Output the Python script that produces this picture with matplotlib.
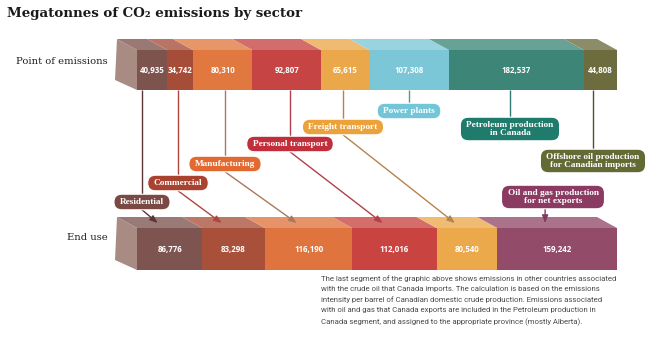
import matplotlib
matplotlib.use("Agg")
import matplotlib.pyplot as plt
from matplotlib.patches import Polygon, FancyBboxPatch
from matplotlib.colors import to_rgb

# Point of emissions (megatonnes CO2)
point_labels = ["Residential", "Commercial", "Manufacturing", "Personal transport",
                "Freight transport", "Power plants", "Petroleum production\nin Canada",
                "Offshore oil production\nfor Canadian imports"]
point_values = [40935, 34742, 80310, 92807, 65615, 107308, 182537, 44808]
point_colors = ["#7d534e", "#a64d3a", "#e07840", "#c64443",
                "#eba84b", "#7cc7d7", "#3d8677", "#6c6c3e"]

# End use (megatonnes CO2)
end_labels = ["Residential", "Commercial", "Manufacturing", "Personal transport",
              "Freight transport", "Oil and gas production\nfor net exports"]
end_values = [86776, 83298, 116190, 112016, 80540, 159242]
end_colors = ["#7e5450", "#a9503b", "#e0743f", "#c94441", "#eca94b", "#934b6a"]

# pill colours, leader colours and pill centres for each callout
pill_style = {
    "Residential": ("#7a4943", "#5a3734", (142, 202)),
    "Commercial": ("#a9432f", "#b0453f", (178, 183)),
    "Manufacturing": ("#e2692f", "#a87a5d", (225, 164)),
    "Personal transport": ("#c22f3c", "#b0404a", (290, 144)),
    "Freight transport": ("#eca23a", "#b5834e", (343, 127)),
    "Power plants": ("#73c6d8", "#4e98a8", (409, 111)),
    "Petroleum production\nin Canada": ("#1f7b6b", "#2f7a72", (510, 129)),
    "Offshore oil production\nfor Canadian imports": ("#636a34", "#4f4f37", (593, 161)),
    "Oil and gas production\nfor net exports": ("#8b3b61", "#7d3b5e", (553, 197)),
}

note = ("The last segment of the graphic above shows emissions in other countries associated\n"
        "with the crude oil that Canada imports. The calculation is based on the emissions\n"
        "intensity per barrel of Canadian domestic crude production. Emissions associated\n"
        "with oil and gas that Canada exports are included in the Petroleum production in\n"
        "Canada segment, and assigned to the appropriate province (mostly Alberta).")

W, H = 650, 339
BAR_X0, BAR_W = 137, 480
DX, DY = -20, -10
SIDE = "#a88c84"


def lighten(c, f):
    r, g, b = to_rgb(c)
    return (r + (1 - r) * f, g + (1 - g) * f, b + (1 - b) * f)


def draw_bar(ax, values, colors, y_top, y_bot):
    total = sum(values)
    edges = [BAR_X0]
    for v in values:
        edges.append(edges[-1] + v / total * BAR_W)
    # left side face
    ax.add_patch(Polygon([(BAR_X0, y_top), (BAR_X0 + DX, y_top + DY - 1),
                          (BAR_X0 + DX - 2, y_bot + DY), (BAR_X0, y_bot)],
                         closed=True, fc=SIDE, ec="none", zorder=2))
    centers = []
    for i, v in enumerate(values):
        x0, x1 = edges[i], edges[i + 1]
        ax.add_patch(Polygon([(x0, y_top), (x1, y_top), (x1 + DX, y_top + DY - 1),
                              (x0 + DX, y_top + DY - 1)],
                             closed=True, fc=lighten(colors[i], 0.22), ec="none", zorder=2))
        ax.add_patch(Polygon([(x0, y_top), (x1, y_top), (x1, y_bot), (x0, y_bot)],
                             closed=True, fc=colors[i], ec="none", zorder=3))
        cx = (x0 + x1) / 2
        centers.append(cx)
        ax.text(cx, (y_top + y_bot) / 2 + 0.5, f"{v:,}", ha="center", va="center",
                color="white", fontsize=5.7, fontweight="bold", family="Open Sans", zorder=4)
    return centers


def pill(ax, fig, label, fc):
    cx, cy = pill_style[label][2]
    t = ax.text(cx, cy, label, ha="center", va="center", color="white",
                fontsize=6.7, family="Liberation Serif", fontweight="bold",
                linespacing=1.0, zorder=6)
    fig.canvas.draw()
    bb = t.get_window_extent().transformed(ax.transData.inverted())
    x0, x1 = sorted([bb.x0, bb.x1])
    y0, y1 = sorted([bb.y0, bb.y1])
    hp, vp = 6, 3.8
    w, h = x1 - x0 + 2 * hp, y1 - y0 + 2 * vp
    r = min(h / 2, 8)
    ax.add_patch(FancyBboxPatch((x0 - hp, y0 - vp), w, h,
                                boxstyle=f"round,pad=0,rounding_size={r}",
                                fc=fc, ec="white", lw=0.8, zorder=5))
    return y0 - vp, y0 - vp + h


fig = plt.figure(figsize=(W / 100, H / 100), dpi=100)
ax = fig.add_axes([0, 0, 1, 1])
ax.set_xlim(0, W)
ax.set_ylim(H, 0)
ax.axis("off")

fig.text(7 / W, 1 - 14 / H, "Megatonnes of CO₂ emissions by sector", ha="left", va="center",
         fontsize=9.6, fontweight="heavy", family="DejaVu Serif", color="#1a1a1a")

ax.text(108, 62, "Point of emissions", ha="right", va="center", fontsize=7.2,
        family="DejaVu Serif", color="#1e1e1e")
ax.text(108, 238, "End use", ha="right", va="center", fontsize=7.2,
        family="DejaVu Serif", color="#1e1e1e")

TOP_Y0, TOP_Y1 = 50, 90
BOT_Y0, BOT_Y1 = 228, 270
top_centers = draw_bar(ax, point_values, point_colors, TOP_Y0, TOP_Y1)
bot_centers = draw_bar(ax, end_values, end_colors, BOT_Y0, BOT_Y1)

pill_box = {}
for label in pill_style:
    pill_box[label] = pill(ax, fig, label, pill_style[label][0])

# vertical leaders from the top bar down to each callout
for label in point_labels:
    cx = pill_style[label][2][0]
    top, _ = pill_box[label]
    ax.plot([cx, cx], [TOP_Y1, top], color=pill_style[label][1], lw=1.0,
            zorder=4, solid_capstyle="butt")

# arrows from callouts down onto the end-use bar
for label, cx in zip(end_labels, bot_centers):
    _, bottom = pill_box[label]
    end = (cx + DX / 2 - 2, BOT_Y0 + DY / 2)
    if label.startswith("Oil and gas"):
        start = (end[0], bottom)
    else:
        start = (pill_style[label][2][0], bottom)
    ax.annotate("", xy=end, xytext=start, zorder=4,
                arrowprops=dict(arrowstyle="-|>,head_length=0.45,head_width=0.18",
                                color=pill_style[label][1], lw=1.0,
                                shrinkA=0, shrinkB=0, mutation_scale=10))

ax.text(321, 275, note, ha="left", va="top", fontsize=5.55, family="Roboto",
        color="#4a4a4a", linespacing=1.8)

fig.savefig("out.png", dpi=100, facecolor="white")
